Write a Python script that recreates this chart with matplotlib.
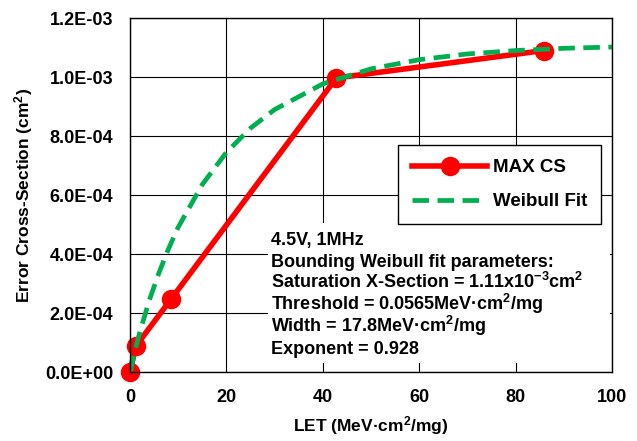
import matplotlib
matplotlib.use("Agg")
import matplotlib.pyplot as plt
from matplotlib.patches import Rectangle

# measured points (MAX CS)
let_max = [0.0, 1.2, 8.5, 42.8, 85.8]
cs_max = [0.0, 8.8e-5, 2.47e-4, 9.97e-4, 1.09e-3]

# Weibull fit curve
let_fit = [0.0565, 1, 2, 4, 6, 8, 10, 15, 20, 25, 30, 40, 50, 60, 70, 80, 90, 100]
cs_fit = [0.0, 7.0e-5, 1.33e-4, 2.43e-4, 3.36e-4, 4.18e-4, 4.91e-4, 6.36e-4,
          7.45e-4, 8.27e-4, 8.90e-4, 9.77e-4, 1.028e-3, 1.059e-3, 1.0785e-3,
          1.090e-3, 1.0976e-3, 1.102e-3]

x_ticks = [0, 20, 40, 60, 80, 100]
y_ticks = [0, 2e-4, 4e-4, 6e-4, 8e-4, 1e-3, 1.2e-3]
y_tick_labels = ["0.0E+00", "2.0E-04", "4.0E-04", "6.0E-04", "8.0E-04", "1.0E-03", "1.2E-03"]

note_lines = ["4.5V, 1MHz",
              "Bounding Weibull fit parameters:",
              "Saturation X-Section = 1.11x10$^{-3}$cm$^2$",
              "Threshold = 0.0565MeV·cm$^2$/mg",
              "Width = 17.8MeV·cm$^2$/mg",
              "Exponent = 0.928"]

plt.rcParams['font.family'] = ['Liberation Sans', 'DejaVu Sans']
plt.rcParams['font.weight'] = 'bold'
plt.rcParams['mathtext.fontset'] = 'custom'
plt.rcParams['mathtext.rm'] = 'Liberation Sans:bold'
plt.rcParams['mathtext.bf'] = 'Liberation Sans:bold'
plt.rcParams['mathtext.it'] = 'Liberation Sans:bold'

fig = plt.figure(figsize=(6.37, 4.41), dpi=100)
ax = fig.add_axes([0.204, 0.156, 0.757, 0.803])

ax.plot(let_max, cs_max, color='#FF0000', lw=4, marker='o', markersize=13,
        label='MAX CS', zorder=4, clip_on=False)
ax.plot(let_fit, cs_fit, color='#00B050', lw=3.4, ls=(0, (3.5, 1.8)),
        label='Weibull Fit', zorder=5)

ax.set_xlim(0, 100)
ax.set_ylim(0, 1.2e-3)
ax.set_xticks(x_ticks)
ax.set_yticks(y_ticks)
ax.set_yticklabels(y_tick_labels)
ax.tick_params(length=0, labelsize=13)
ax.tick_params(axis='y', pad=12)
ax.tick_params(axis='x', pad=12)
for lab in ax.get_xticklabels() + ax.get_yticklabels():
    lab.set_fontweight('bold')
ax.grid(True, color='black', lw=0.8)
ax.set_axisbelow(True)
for s in ax.spines.values():
    s.set_color('black')
    s.set_linewidth(1.0)
    s.set_zorder(6)

ax.set_xlabel('LET (MeV·cm$^2$/mg)', fontsize=12.5, fontweight='bold', labelpad=6)
ax.set_ylabel('Error Cross-Section (cm$^2$)', fontsize=12.5, fontweight='bold', labelpad=7)

leg = ax.legend(loc='upper right', bbox_to_anchor=(0.977, 0.641), borderaxespad=0,
                prop={'size': 13.5, 'weight': 'bold'},
                handlelength=4.0, handletextpad=0.3, labelspacing=0.9, borderpad=0.75,
                fancybox=False, framealpha=1, edgecolor='black')
leg.get_frame().set_linewidth(1.0)
leg.set_zorder(7)

# white panel behind the annotation
ax.add_patch(Rectangle((0.286, 0.025), 0.71, 0.396, transform=ax.transAxes,
                       facecolor='white', edgecolor='none', zorder=2))
for i, line in enumerate(note_lines):
    ax.text(0.293, 0.359 - i * 0.0613, line, transform=ax.transAxes,
            fontsize=13, fontweight='bold', va='baseline', ha='left', zorder=3)

fig.savefig('out.png', dpi=100)
